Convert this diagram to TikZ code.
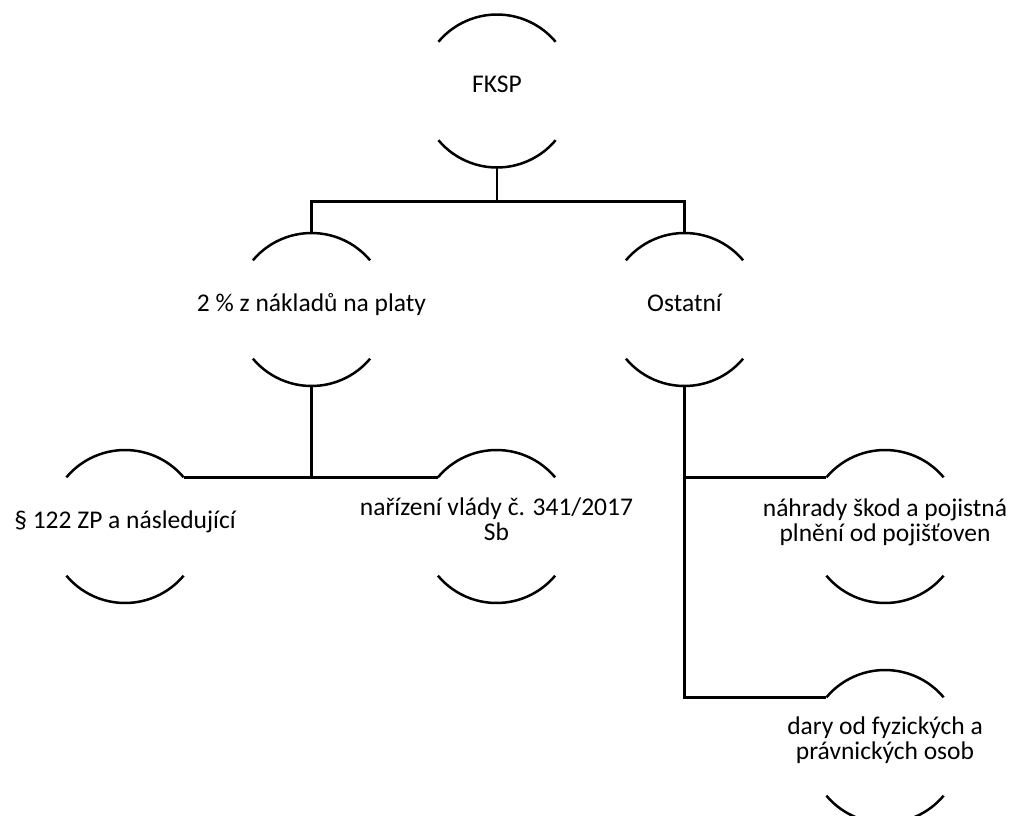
\documentclass[tikz,border=0pt]{standalone}
\usepackage{fontspec}
\setmainfont{Carlito}
\begin{document}
\begin{tikzpicture}[x=1pt,y=1pt,
  circ/.style={circle, draw=none, minimum size=153pt, inner sep=0pt, outer sep=0pt},
  txt/.style={font=\fontsize{25.5pt}{25pt}\selectfont, inner sep=0pt, align=center, anchor=base},
  arcln/.style={line width=2.5pt, black},
  conn/.style={line width=2.5pt, black}]
\path[use as bounding box] (0,0) rectangle (1014,-816);
% shape positions
\node[circ] (fksp) at (497,-91) {};
\node[circ] (pay) at (311.5,-309.5) {};
\node[circ] (ost) at (684.5,-309.5) {};
\node[circ] (par) at (125,-526.5) {};
\node[circ] (nar) at (496.5,-526.5) {};
\node[circ] (nah) at (885,-526.5) {};
\node[circ] (dar) at (885,-746.5) {};
% arcs
\foreach \n in {fksp,pay,ost,par,nar,nah,dar}{
  \draw[arcln] (\n.140) arc[start angle=140, end angle=40, radius=76.5pt];
  \draw[arcln] (\n.220) arc[start angle=220, end angle=320, radius=76.5pt];
}
% texts
\node[txt] (tfksp) at ([yshift=-1.5pt]fksp.center) {FKSP};
\node[txt] (tpay) at ([yshift=-2pt]pay.center) {2 \% z nákladů na platy};
\node[txt] (tost) at ([yshift=-2pt]ost.center) {Ostatní};
\node[txt] (tpar) at ([yshift=-1.5pt]par.center) {§ 122 ZP a následující};
\node[txt] (tnar) at ([yshift=-13.5pt]nar.center) {nařízení vlády č. 341/2017\\Sb};
\node[txt] (tnah) at ([yshift=-14.5pt]nah.center) {náhrady škod a pojistná\\plnění od pojišťoven};
\node[txt] (tdar) at ([yshift=-12.5pt]dar.center) {dary od fyzických a\\právnických osob};
% connectors
\draw[conn] (fksp.south) -- ++(0,-34) coordinate (j1);
\draw[conn] (j1) -| (pay.north);
\draw[conn] (j1) -| (ost.north);
\draw[conn] (par.40) -| (pay.south);
\draw[conn] (nar.140) -| (pay.south);
\draw[conn] (nah.140) -| (ost.south);
\draw[conn] (dar.140) -| (ost.south);
\end{tikzpicture}
\end{document}
